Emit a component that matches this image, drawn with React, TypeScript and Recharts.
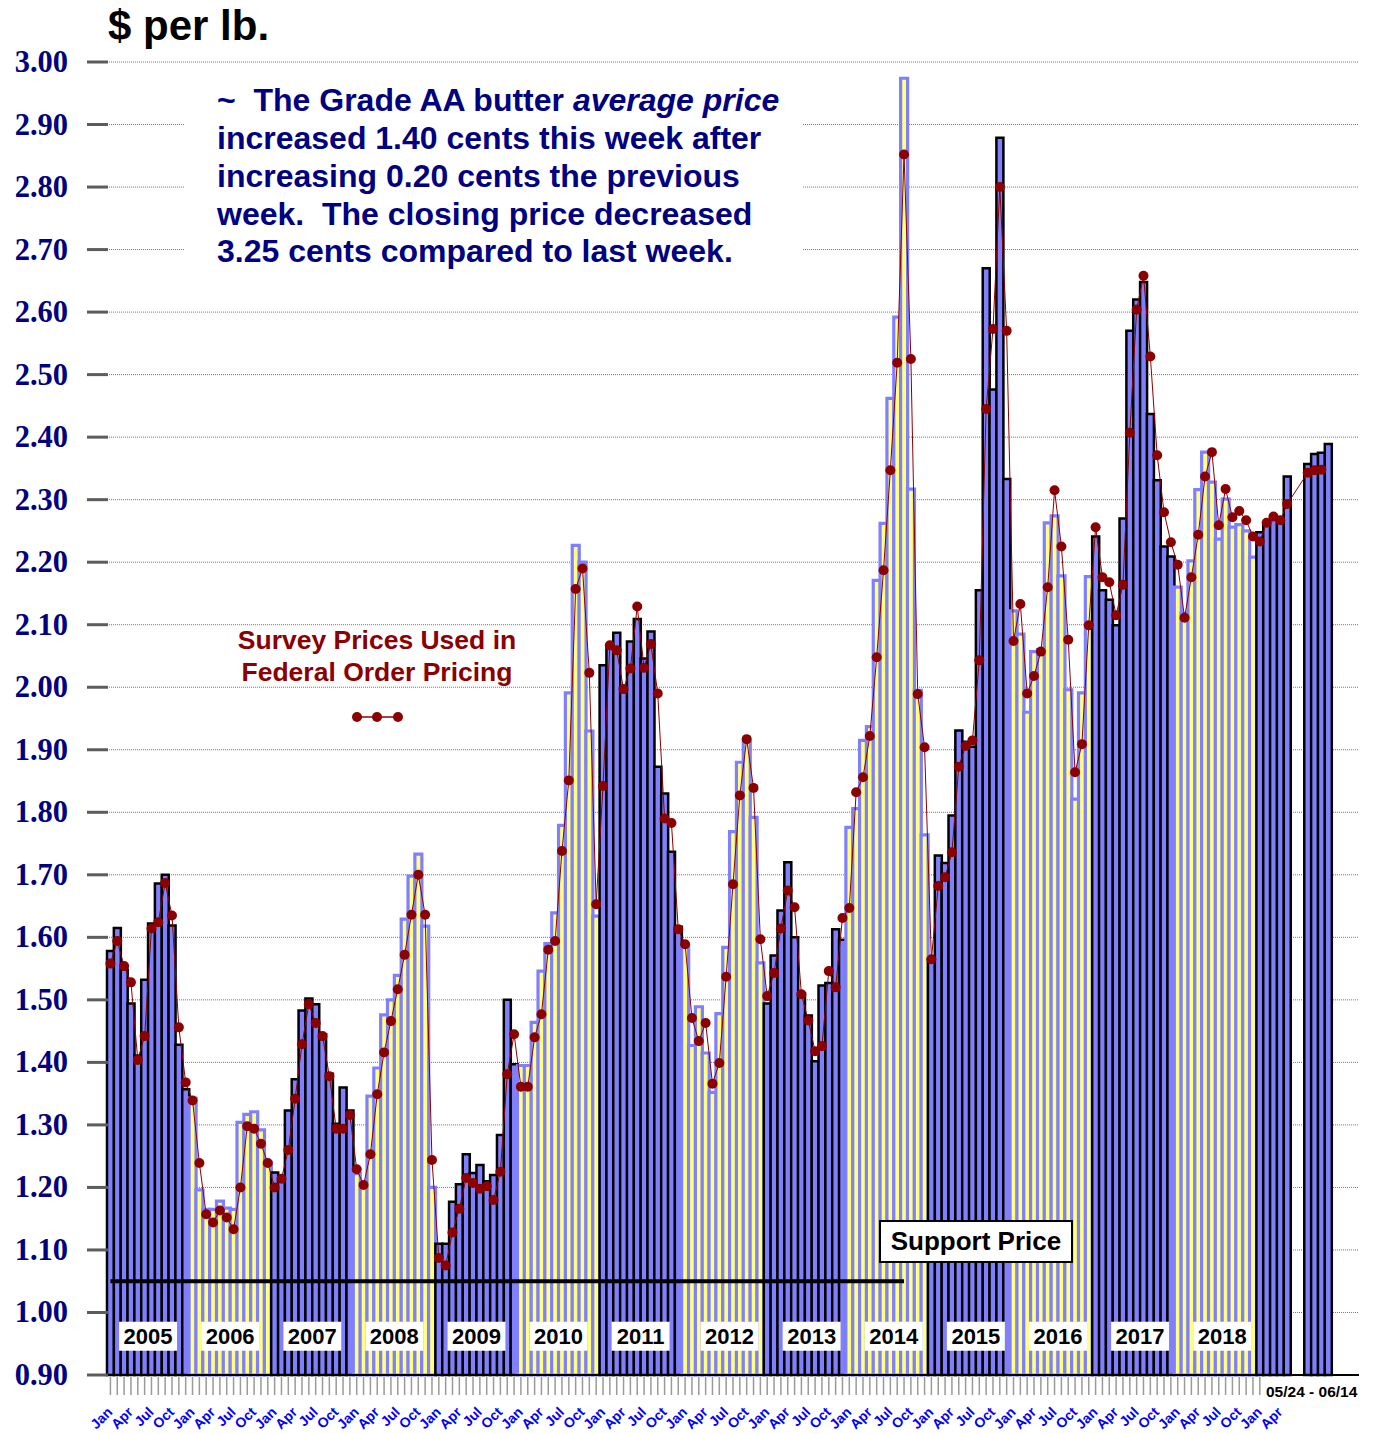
import React from 'react';
import { ComposedChart, Bar, Line, XAxis, YAxis, CartesianGrid, Cell, ReferenceDot } from 'recharts';

const years = [2005, 2006, 2007, 2008, 2009, 2010, 2011, 2012, 2013, 2014, 2015, 2016, 2017, 2018, 2019];
const monthNames = ['Jan', 'Feb', 'Mar', 'Apr', 'May', 'Jun', 'Jul', 'Aug', 'Sep', 'Oct', 'Nov', 'Dec'];

// Grade AA butter monthly average price ($/lb)
const avg2005 = [1.578, 1.615, 1.548, 1.494, 1.411, 1.532, 1.622, 1.686, 1.700, 1.619, 1.428, 1.357];
const avg2006 = [1.343, 1.196, 1.165, 1.165, 1.178, 1.167, 1.165, 1.304, 1.317, 1.321, 1.292, 1.240];
const avg2007 = [1.224, 1.210, 1.323, 1.373, 1.483, 1.502, 1.493, 1.445, 1.382, 1.302, 1.360, 1.323];
const avg2008 = [1.222, 1.206, 1.346, 1.391, 1.476, 1.500, 1.539, 1.629, 1.698, 1.733, 1.618, 1.200];
const avg2009 = [1.110, 1.110, 1.177, 1.205, 1.253, 1.223, 1.236, 1.210, 1.220, 1.284, 1.500, 1.397];
const avg2010 = [1.395, 1.395, 1.464, 1.546, 1.590, 1.639, 1.779, 1.991, 2.227, 2.200, 1.930, 1.634];
const avg2011 = [2.035, 2.067, 2.087, 2.000, 2.073, 2.109, 2.046, 2.089, 1.873, 1.830, 1.737, 1.617];
const avg2012 = [1.584, 1.427, 1.489, 1.415, 1.352, 1.478, 1.584, 1.769, 1.880, 1.912, 1.792, 1.559];
const avg2013 = [1.494, 1.571, 1.643, 1.720, 1.600, 1.510, 1.475, 1.402, 1.523, 1.527, 1.613, 1.596];
const avg2014 = [1.776, 1.806, 1.915, 1.937, 2.171, 2.262, 2.462, 2.592, 2.974, 2.317, 1.995, 1.764];
const avg2015 = [1.565, 1.731, 1.719, 1.795, 1.931, 1.913, 1.905, 2.155, 2.670, 2.476, 2.879, 2.333];
const avg2016 = [2.122, 2.085, 1.960, 2.057, 2.060, 2.263, 2.274, 2.178, 1.996, 1.821, 1.991, 2.177];
const avg2017 = [2.241, 2.155, 2.140, 2.099, 2.270, 2.570, 2.620, 2.648, 2.437, 2.331, 2.225, 2.209];
const avg2018 = [2.160, 2.118, 2.202, 2.316, 2.376, 2.328, 2.237, 2.301, 2.256, 2.260, 2.250, 2.208];
const avg2019 = [2.248, 2.259, 2.270, 2.265, 2.337];

// Survey prices used in Federal Order pricing ($/lb)
const sur2005 = [1.558, 1.594, 1.554, 1.528, 1.404, 1.442, 1.614, 1.624, 1.687, 1.635, 1.456, 1.368];
const sur2006 = [1.339, 1.239, 1.157, 1.144, 1.163, 1.152, 1.133, 1.200, 1.298, 1.294, 1.270, 1.239];
const sur2007 = [1.200, 1.214, 1.260, 1.342, 1.429, 1.493, 1.463, 1.442, 1.378, 1.294, 1.294, 1.316];
const sur2008 = [1.229, 1.204, 1.253, 1.349, 1.416, 1.466, 1.517, 1.572, 1.636, 1.700, 1.636, 1.244];
const sur2009 = [1.087, 1.075, 1.128, 1.166, 1.215, 1.207, 1.198, 1.202, 1.180, 1.225, 1.381, 1.445];
const sur2010 = [1.361, 1.361, 1.440, 1.477, 1.580, 1.594, 1.738, 1.851, 2.157, 2.190, 2.023, 1.653];
const sur2011 = [1.842, 2.067, 2.059, 1.997, 2.030, 2.129, 2.031, 2.069, 1.990, 1.790, 1.783, 1.613];
const sur2012 = [1.589, 1.471, 1.434, 1.463, 1.366, 1.399, 1.537, 1.685, 1.827, 1.917, 1.839, 1.597];
const sur2013 = [1.506, 1.543, 1.614, 1.675, 1.648, 1.509, 1.467, 1.418, 1.426, 1.546, 1.520, 1.631];
const sur2014 = [1.647, 1.832, 1.856, 1.922, 2.048, 2.187, 2.347, 2.519, 2.852, 2.525, 1.989, 1.904];
const sur2015 = [1.565, 1.682, 1.696, 1.736, 1.873, 1.906, 1.915, 2.043, 2.445, 2.573, 2.800, 2.570];
const sur2016 = [2.074, 2.133, 1.990, 2.018, 2.057, 2.160, 2.315, 2.225, 2.076, 1.864, 1.909, 2.099];
const sur2017 = [2.256, 2.176, 2.168, 2.115, 2.164, 2.407, 2.604, 2.658, 2.529, 2.371, 2.280, 2.232];
const sur2018 = [2.196, 2.111, 2.176, 2.244, 2.337, 2.376, 2.259, 2.317, 2.272, 2.282, 2.267, 2.241];
const sur2019 = [2.233, 2.263, 2.273, 2.267, 2.293];

// Weekly values 05/24 - 06/14
const weekLabels = ['05/24', '05/31', '06/07', '06/14'];
const weekAvg = [2.357, 2.373, 2.375, 2.389];
const weekSurvey: (number | null)[] = [2.343, 2.347, 2.348, null];

const supportPrice = 1.05;
const supportLastKey = '2014-09';

const majorTicks = [0.9, 1.0, 1.1, 1.2, 1.3, 1.4, 1.5, 1.6, 1.7, 1.8, 1.9, 2.0, 2.1, 2.2, 2.3, 2.4, 2.5, 2.6, 2.7, 2.8, 2.9, 3.0];
const minorTicks = [0.95, 1.05, 1.15, 1.25, 1.35, 1.45, 1.55, 1.65, 1.75, 1.85, 1.95, 2.05, 2.15, 2.25, 2.35, 2.45, 2.55, 2.65, 2.75, 2.85, 2.95];
const labelYears = [2005, 2006, 2007, 2008, 2009, 2010, 2011, 2012, 2013, 2014, 2015, 2016, 2017, 2018];
const labelMonth = [6, 6, 6, 6, 6, 6, 6, 7, 7, 7, 7, 7, 7, 7];
const yearLabelLevel = 0.962;

const avgByYear = [avg2005, avg2006, avg2007, avg2008, avg2009, avg2010, avg2011, avg2012, avg2013, avg2014, avg2015, avg2016, avg2017, avg2018, avg2019];
const surByYear = [sur2005, sur2006, sur2007, sur2008, sur2009, sur2010, sur2011, sur2012, sur2013, sur2014, sur2015, sur2016, sur2017, sur2018, sur2019];

type Row = {
  k: string; kind: 'm' | 'w' | 'gap'; year: number; month: number; slot: number;
  avg: number | null; survey: number | null; support: number | null;
};

const rows: Row[] = [];
{
  let slot = 0;
  let supportOn = true;
  years.forEach((yr, yi) => {
    avgByYear[yi].forEach((v, mi) => {
      const k = `${yr}-${String(mi + 1).padStart(2, '0')}`;
      rows.push({ k, kind: 'm', year: yr, month: mi, slot, avg: v, survey: surByYear[yi][mi], support: supportOn ? supportPrice : null });
      if (k === supportLastKey) supportOn = false;
      slot++;
    });
  });
  for (let g = 0; g < 2; g++) { rows.push({ k: `gap${g}`, kind: 'gap', year: 0, month: -1, slot, avg: null, survey: null, support: null }); slot++; }
  weekLabels.forEach((w, i) => { rows.push({ k: `wk ${w}`, kind: 'w', year: 2019, month: -1, slot, avg: weekAvg[i], survey: weekSurvey[i], support: null }); slot++; });
  for (let g = 0; g < 4; g++) { rows.push({ k: `end${g}`, kind: 'gap', year: 0, month: -1, slot, avg: null, survey: null, support: null }); slot++; }
}
const rowByKey = new Map(rows.map((r) => [r.k, r]));

const SANS = "'Liberation Sans', Arial, Helvetica, sans-serif";
const SERIF = "'Liberation Serif', 'Times New Roman', serif";
const NAVY = '#000080';
const DARKRED = '#8B0000';

const YTick = (props: any) => {
  const { y, payload } = props;
  const v = payload.value as number;
  return (
    <g>
      <line x1={87} x2={108} y1={y} y2={y} stroke="#5c5c5c" strokeWidth={3} />
      <text x={68} y={y} dy={10} textAnchor="end" fontFamily={SERIF} fontWeight="bold" fontSize={30.5} fill={NAVY}>
        {v.toFixed(2)}
      </text>
    </g>
  );
};

const YMinorTick = (props: any) => {
  const { y } = props;
  return <line x1={97} x2={108} y1={y} y2={y} stroke="#5c5c5c" strokeWidth={3} />;
};

const XTick = (props: any) => {
  const { x, y, payload } = props;
  const r = rowByKey.get(payload.value);
  if (!r || r.kind !== 'm') return null;
  const showTick = r.slot <= 168;
  const showLabel = r.month % 3 === 0;
  const ax = x + 3;
  const ay = y + 38;
  return (
    <g>
      {showTick && <line x1={x} x2={x} y1={y + 2} y2={y + 20} stroke="#9a9a9a" strokeWidth={1.5} />}
      {showLabel && (
        <text x={ax} y={ay} transform={`rotate(-45 ${ax} ${ay})`} textAnchor="end" fontFamily={SANS} fontWeight="bold" fontSize={14} fill="#0000FF">
          {monthNames[r.month]}
        </text>
      )}
    </g>
  );
};

const isDarkYear = (r: Row) => r.kind === 'w' || r.year % 2 === 1;

export default function App() {
  return (
    <div style={{ position: 'absolute', left: 0, top: 0, width: 1377, height: 1434, background: '#fff' }}>
      <ComposedChart
        width={1377}
        height={1434}
        data={rows}
        margin={{ top: 62, right: 18, bottom: 0, left: 0 }}
        barCategoryGap={0}
        barGap={0}
      >
        <CartesianGrid vertical={false} stroke="#777" strokeDasharray="1 1" yAxisId="main" />
        <XAxis
          dataKey="k"
          type="category"
          interval={0}
          tickLine={false}
          tickSize={0}
          tickMargin={0}
          axisLine={{ stroke: '#000', strokeWidth: 2 }}
          height={59}
          tick={<XTick />}
        />
        <YAxis
          yAxisId="main"
          type="number"
          domain={[0.9, 3.0]}
          ticks={majorTicks}
          interval={0}
          width={107}
          tickLine={false}
          axisLine={false}
          tick={<YTick />}
        />
        <YAxis
          yAxisId="minor"
          orientation="right"
          type="number"
          domain={[0.9, 3.0]}
          ticks={minorTicks}
          interval={0}
          width={0}
          tickLine={false}
          axisLine={false}
          tick={<YMinorTick />}
        />
        <Bar yAxisId="main" dataKey="avg" isAnimationActive={false}>
          {rows.map((r) => (
            <Cell
              key={r.k}
              fill={isDarkYear(r) ? '#8080FF' : '#FFFF80'}
              stroke={isDarkYear(r) ? '#000000' : '#8080FF'}
              strokeWidth={isDarkYear(r) ? 2.5 : 3.2}
            />
          ))}
        </Bar>
        <Line yAxisId="main" dataKey="support" stroke="#000" strokeWidth={4} dot={false} activeDot={false} isAnimationActive={false} />
        <Line
          yAxisId="main"
          dataKey="survey"
          stroke={DARKRED}
          strokeWidth={1}
          connectNulls
          dot={{ r: 5, fill: DARKRED, stroke: DARKRED, strokeWidth: 0 }}
          activeDot={false}
          isAnimationActive={false}
        />
        {labelYears.map((yr, i) => (
          <ReferenceDot
            key={yr}
            yAxisId="main"
            x={`${yr}-${String(labelMonth[i] + 1).padStart(2, '0')}`}
            y={yearLabelLevel}
            r={0}
            ifOverflow="visible"
            shape={(p: any) => (
              <g>
                <rect x={p.cx - 3.42 - 29} y={p.cy - 14.5} width={58} height={29} fill="#fff" />
                <text x={p.cx - 3.42} y={p.cy + 8} textAnchor="middle" fontFamily={SANS} fontWeight="bold" fontSize={22} fill="#000">
                  {yr}
                </text>
              </g>
            )}
          />
        ))}
      </ComposedChart>

      <svg width={1377} height={1434} style={{ position: 'absolute', left: 0, top: 0, pointerEvents: 'none' }}>
        <text x={108} y={40} fontFamily={SANS} fontWeight="bold" fontSize={42} fill="#000">$ per lb.</text>

        <rect x={185} y={76} width={617} height={194} fill="#fff" />
        <g fontFamily={SANS} fontWeight="bold" fontSize={32} fill={NAVY}>
          <text x={217} y={111} style={{ whiteSpace: 'pre' }}>
            {'~  The Grade AA butter '}<tspan fontStyle="italic">average price</tspan>
          </text>
          <text x={217} y={149}>increased 1.40 cents this week after</text>
          <text x={217} y={187}>increasing 0.20 cents the previous</text>
          <text x={217} y={225} style={{ whiteSpace: 'pre' }}>{'week.  The closing price decreased'}</text>
          <text x={217} y={262}>3.25 cents compared to last week.</text>
        </g>

        <g fontFamily={SANS} fontWeight="bold" fontSize={26.5} fill={DARKRED} textAnchor="middle">
          <text x={377} y={649}>Survey Prices Used in</text>
          <text x={377} y={681}>Federal Order Pricing</text>
        </g>
        <line x1={357} x2={398} y1={717} y2={717} stroke={DARKRED} strokeWidth={1.5} />
        <circle cx={357} cy={717} r={5} fill={DARKRED} />
        <circle cx={377} cy={717} r={5} fill={DARKRED} />
        <circle cx={398} cy={717} r={5} fill={DARKRED} />

        <rect x={880} y={1221} width={192} height={41} fill="#fff" stroke="#000" strokeWidth={2} />
        <text x={976} y={1250} textAnchor="middle" fontFamily={SANS} fontWeight="bold" fontSize={26} fill="#000">Support Price</text>

        <text x={1266} y={1397} fontFamily={SANS} fontWeight="bold" fontSize={15.5} fill="#000">05/24 - 06/14</text>
      </svg>
    </div>
  );
}
